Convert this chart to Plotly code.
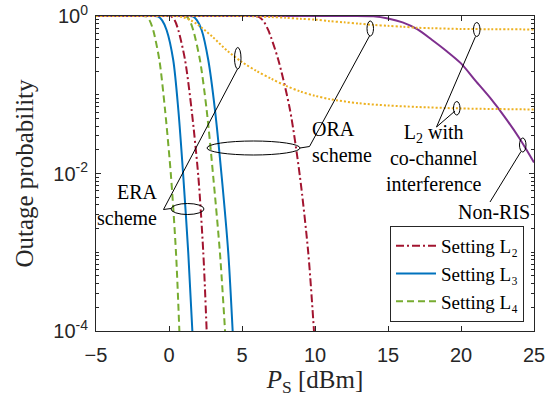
import plotly.graph_objects as go

# ---------------- data ----------------
# common outage levels at which x positions were read for the steep curves
y_levels = [1.0, 1.0, 0.998, 0.98, 0.88, 0.66, 0.276, 0.064, 0.0091, 0.00098, 0.0001]

era_L2_x = [-5, -0.52, -0.12, 0.18, 0.39, 0.64, 1.10, 1.55, 2.01, 2.35, 2.58]
era_L3_x = [-5, -1.43, -1.03, -0.73, -0.47, -0.16, 0.29, 0.64, 0.98, 1.32, 1.60]
era_L4_x = [-5, -2.23, -1.83, -1.53, -1.33, -1.08, -0.66, -0.27, 0.14, 0.48, 0.71]
ora_L2_x = [-5, 4.92, 5.62, 6.12, 6.43, 6.80, 7.49, 8.29, 8.97, 9.54, 9.93]
ora_L3_x = [-5, 0.96, 1.36, 1.66, 1.92, 2.24, 2.69, 3.15, 3.61, 4.06, 4.36]
ora_L4_x = [-5, 0.51, 0.91, 1.21, 1.41, 1.66, 2.12, 2.58, 3.03, 3.49, 3.84]

# L2 with co-channel interference (ERA lower, ORA upper)
cci_era_x = [-5, 0.5, 1.0, 1.5, 2.0, 3.0, 4.0, 5.0, 6.0, 7.0, 8.0, 9.0, 10, 11, 13, 15, 17, 20, 25]
cci_era_y = [1.0, 1.0, 0.96, 0.88, 0.77, 0.54, 0.36, 0.26, 0.20, 0.16, 0.13, 0.11, 0.097, 0.088,
             0.078, 0.073, 0.070, 0.067, 0.065]
cci_ora_x = [-5, 5, 6, 7, 8, 9, 10, 11, 12, 13, 14, 15, 16, 17, 18, 20, 22, 25]
cci_ora_y = [1.0, 1.0, 0.99, 0.97, 0.95, 0.92, 0.90, 0.86, 0.83, 0.80, 0.77, 0.75, 0.73, 0.71,
             0.70, 0.685, 0.68, 0.675]

# Non-RIS
nonris_x = [-5, 12, 14, 15, 16, 17, 18, 19, 20, 21, 22, 23, 24, 25]
nonris_y = [1.0, 1.0, 0.99, 0.93, 0.83, 0.68, 0.50, 0.36, 0.25, 0.15, 0.091, 0.052, 0.028, 0.0138]

x_ticks = [-5, 0, 5, 10, 15, 20, 25]
y_major = [1e-4, 1e-2, 1]
y_major_text = ["10<sup>-4</sup>", "10<sup>-2</sup>", "10<sup>0</sup>"]
y_minor = [m * 10.0 ** e for e in range(-4, 0) for m in range(1, 10) if not (m == 1 and e % 2 == 0)]

legend_names = ["Setting L\u2082", "Setting L\u2083", "Setting L\u2084"]

# ---------------- styles ----------------
RED = "#A2142F"
BLUE = "#0072BD"
GREEN = "#77AC30"
ORANGE = "#EDB120"
PURPLE = "#7E2F8E"
SERIF = "Liberation Serif"
SANS = "Liberation Sans"
AXC = "#262626"

W, H = 559, 399
ML, MR, MT, MB = 96, 25, 16, 68
PW, PH = W - ML - MR, H - MT - MB


def P(px, py):
    return (px - ML) / PW, (H - MB - py) / PH


fig = go.Figure()

styles = [
    (RED, "8px,3px,2px,3px", era_L2_x, ora_L2_x, legend_names[0]),
    (BLUE, "solid", era_L3_x, ora_L3_x, legend_names[1]),
    (GREEN, "7px,4px", era_L4_x, ora_L4_x, legend_names[2]),
]
for col, dash, ex, ox, name in styles:
    fig.add_trace(go.Scatter(x=ex, y=y_levels, mode="lines", name=name, legendgroup=name,
                             line=dict(color=col, width=2, dash=dash, shape="spline", smoothing=0.8)))
    fig.add_trace(go.Scatter(x=ox, y=y_levels, mode="lines", name=name, legendgroup=name,
                             showlegend=False,
                             line=dict(color=col, width=2, dash=dash, shape="spline", smoothing=0.8)))

fig.add_trace(go.Scatter(x=nonris_x, y=nonris_y, mode="lines", showlegend=False,
                         line=dict(color=PURPLE, width=2, shape="spline", smoothing=0.8)))
fig.add_trace(go.Scatter(x=cci_era_x, y=cci_era_y, mode="lines", showlegend=False,
                         line=dict(color=ORANGE, width=2, dash="2px,2px", shape="spline", smoothing=0.8)))
fig.add_trace(go.Scatter(x=cci_ora_x, y=cci_ora_y, mode="lines", showlegend=False,
                         line=dict(color=ORANGE, width=2, dash="2px,2px", shape="spline", smoothing=0.8)))

# ---------------- annotation ellipses & leader lines ----------------
ellipses = [
    (234.5, 47.5, 241, 69),     # ERA on lower orange
    (171, 203.5, 204, 214.5),   # ERA around curves
    (207, 141, 300, 155),       # ORA around curves
    (367, 21, 373.5, 36),       # ORA on upper orange
    (473.5, 22.5, 480, 36.5),   # L2 cci upper
    (453.5, 101.5, 460, 115),   # L2 cci lower
    (519.5, 138, 526, 152),     # Non-RIS
]
shapes = []
for x0, y0, x1, y1 in ellipses:
    a, b = P(x0, y1)
    c, d = P(x1, y0)
    shapes.append(dict(type="circle", xref="paper", yref="paper", x0=a, y0=b, x1=c, y1=d,
                       line=dict(color="black", width=1)))

paths = [
    [(237.5, 69), (163.5, 209.5), (171, 208.5)],
    [(369.5, 36), (309.5, 146.5), (300, 148)],
    [(475.5, 36.5), (436.5, 127), (455, 111)],
    [(521, 151.5), (490, 202)],
]
for pts in paths:
    for (ax_, ay_), (bx_, by_) in zip(pts[:-1], pts[1:]):
        a, b = P(ax_, ay_)
        c, d = P(bx_, by_)
        shapes.append(dict(type="line", xref="paper", yref="paper", x0=a, y0=b, x1=c, y1=d,
                           line=dict(color="black", width=1)))

texts = [
    ("ERA<br>scheme", 160, 205, "right"),
    ("ORA<br>scheme", 310, 142, "left"),
    ("L<sub>2</sub> with<br>co-channel<br>interference", 434, 157.5, "center"),
    ("Non-RIS", 532, 212, "right"),
]
annotations = []
for t, px, py, anch in texts:
    a, b = P(px, py)
    annotations.append(dict(text=t, x=a, y=b, xref="paper", yref="paper", showarrow=False,
                            xanchor=anch, yanchor="middle", align=anch,
                            font=dict(family=SERIF, size=20, color="black")))

fig.update_layout(
    width=W, height=H,
    margin=dict(l=ML, r=MR, t=MT, b=MB, pad=0),
    paper_bgcolor="white", plot_bgcolor="white",
    shapes=shapes, annotations=annotations,
    legend=dict(x=P(524, 0)[0], y=P(0, 322)[1], xanchor="right", yanchor="bottom",
                bgcolor="white", bordercolor=AXC, borderwidth=1,
                font=dict(family=SERIF, size=19, color="black"),
                itemwidth=40, tracegroupgap=0),
    xaxis=dict(range=[-5, 25], tickvals=x_ticks, ticks="inside", ticklen=5, tickcolor=AXC,
               showline=True, linecolor=AXC, linewidth=1, mirror="ticks", showgrid=False,
               zeroline=False, ticklabelstandoff=6, automargin=False,
               tickfont=dict(family=SANS, size=20, color=AXC),
               title=dict(text="<i>P</i><sub>S</sub> [dBm]", standoff=2,
                          font=dict(family=SERIF, size=25, color=AXC))),
    yaxis=dict(type="log", range=[-4, 0], tickvals=y_major, ticktext=y_major_text,
               ticks="inside", ticklen=5, tickcolor=AXC,
               minor=dict(tickvals=y_minor, ticks="inside", ticklen=3, tickcolor=AXC),
               showline=True, linecolor=AXC, linewidth=1, mirror="allticks", showgrid=False,
               zeroline=False, ticklabelstandoff=3, automargin=False,
               tickfont=dict(family=SANS, size=20, color=AXC),
               title=dict(text="Outage probability", standoff=12,
                          font=dict(family=SERIF, size=25, color=AXC))),
)

fig.write_html("out.html")
